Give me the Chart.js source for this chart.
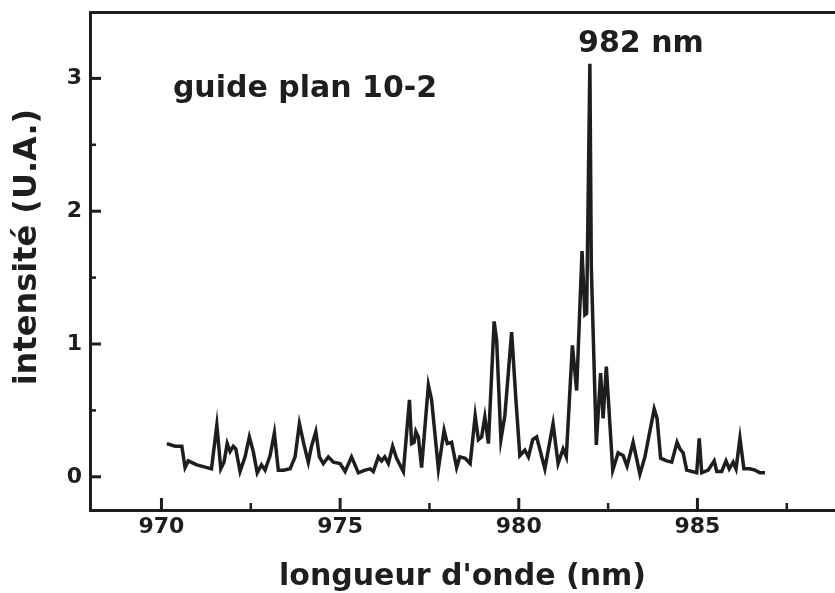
<!DOCTYPE html>
<html>
<head>
<meta charset="utf-8">
<title>guide plan 10-2</title>
<script src="https://cdn.jsdelivr.net/npm/chart.js@4.4.1/dist/chart.umd.min.js"></script>
<style>
  html, body { margin: 0; padding: 0; background: #fff; overflow: hidden; }
  #wrap { width: 835px; height: 593px; }
</style>
</head>
<body>
<div id="wrap"><canvas id="spectre" width="835" height="593"></canvas></div>
<script>
// longueur d'onde (nm)
var wavelength = [
  970.15, 970.38, 970.57, 970.66, 970.75, 970.99, 971.12, 971.40, 971.55, 971.66,
  971.75, 971.84, 971.92, 972.01, 972.08, 972.20, 972.34, 972.46, 972.57, 972.68,
  972.80, 972.90, 973.04, 973.16, 973.27, 973.41, 973.60, 973.74, 973.86, 973.99,
  974.11, 974.20, 974.32, 974.42, 974.53, 974.67, 974.81, 975.00, 975.14, 975.32,
  975.51, 975.70, 975.84, 975.93, 976.07, 976.16, 976.25, 976.35, 976.47, 976.58,
  976.77, 976.94, 977.00, 977.07, 977.12, 977.19, 977.28, 977.47, 977.56, 977.75,
  977.91, 978.00, 978.12, 978.26, 978.35, 978.50, 978.64, 978.78, 978.87, 978.96,
  979.05, 979.15, 979.31, 979.38, 979.50, 979.61, 979.80, 979.92, 980.03, 980.17,
  980.27, 980.39, 980.50, 980.73, 980.96, 981.10, 981.24, 981.33, 981.50, 981.62,
  981.77, 981.85, 981.90, 981.99, 982.03, 982.17, 982.29, 982.36, 982.45, 982.63,
  982.78, 982.92, 983.03, 983.20, 983.39, 983.53, 983.79, 983.87, 983.97, 984.14,
  984.28, 984.43, 984.51, 984.60, 984.70, 984.98, 985.05, 985.12, 985.30, 985.47,
  985.54, 985.68, 985.80, 985.89, 986.00, 986.08, 986.19, 986.30, 986.47, 986.61,
  986.75, 986.89
];
// intensite (U.A.)
var intensity = [
  0.25, 0.23, 0.23, 0.07, 0.12, 0.09, 0.08, 0.06, 0.39, 0.06,
  0.11, 0.25, 0.19, 0.23, 0.21, 0.04, 0.15, 0.30, 0.19, 0.03,
  0.09, 0.05, 0.16, 0.33, 0.05, 0.05, 0.06, 0.15, 0.40, 0.24,
  0.11, 0.23, 0.34, 0.15, 0.10, 0.15, 0.11, 0.10, 0.04, 0.15,
  0.03, 0.05, 0.06, 0.04, 0.15, 0.12, 0.15, 0.10, 0.23, 0.14,
  0.04, 0.58, 0.25, 0.26, 0.34, 0.30, 0.07, 0.69, 0.58, 0.06,
  0.35, 0.25, 0.26, 0.07, 0.15, 0.14, 0.10, 0.46, 0.28, 0.30,
  0.45, 0.25, 1.17, 1.03, 0.28, 0.46, 1.09, 0.58, 0.16, 0.20,
  0.15, 0.28, 0.30, 0.06, 0.40, 0.10, 0.21, 0.15, 0.99, 0.65,
  1.70, 1.22, 1.23, 3.11, 1.58, 0.24, 0.78, 0.44, 0.83, 0.05,
  0.18, 0.16, 0.08, 0.26, 0.02, 0.15, 0.51, 0.44, 0.14, 0.12,
  0.11, 0.26, 0.21, 0.18, 0.05, 0.03, 0.29, 0.03, 0.05, 0.12,
  0.04, 0.04, 0.12, 0.06, 0.11, 0.06, 0.29, 0.06, 0.06, 0.05,
  0.03, 0.03
];
var xTicks = [970, 975, 980, 985];
var xMinor = [972.5, 977.5, 982.5, 987.5];
var yTicks = [0, 1, 2, 3];
var yMinor = [0.5, 1.5, 2.5];

var ink = '#1e1e1e';
var face = '"DejaVu Sans", sans-serif';

var points = wavelength.map(function(w, i) {
  return { x: w, y: intensity[i] };
});

// petites graduations tournees vers l'interieur + textes du graphe
var inside = {
  id: 'inside',
  afterDraw: function(chart) {
    var ctx = chart.ctx;
    var a = chart.chartArea;
    var sx = chart.scales.x;
    var sy = chart.scales.y;
    ctx.save();
    ctx.strokeStyle = ink;
    function seg(x1, y1, x2, y2, w) {
      ctx.lineWidth = w;
      ctx.beginPath();
      ctx.moveTo(x1, y1);
      ctx.lineTo(x2, y2);
      ctx.stroke();
    }
    xTicks.forEach(function(v) {
      var p = sx.getPixelForValue(v);
      seg(p, a.bottom, p, a.bottom - 12, 3);
    });
    xMinor.forEach(function(v) {
      var p = sx.getPixelForValue(v);
      if (p < a.right) seg(p, a.bottom, p, a.bottom - 7, 2.5);
    });
    yTicks.forEach(function(v) {
      var p = sy.getPixelForValue(v);
      seg(a.left, p, a.left + 11, p, 3);
    });
    yMinor.forEach(function(v) {
      var p = sy.getPixelForValue(v);
      seg(a.left, p, a.left + 6, p, 2.5);
    });

    ctx.fillStyle = ink;
    ctx.font = 'bold 30px ' + face;
    ctx.textBaseline = 'alphabetic';
    ctx.textAlign = 'left';
    ctx.fillText('guide plan 10-2', sx.getPixelForValue(970.32), sy.getPixelForValue(2.857));
    ctx.fillText('982 nm', sx.getPixelForValue(981.66), sy.getPixelForValue(3.196));

    // titre de l'axe vertical (un peu au-dessus du centre, comme l'original)
    ctx.font = 'bold 32px ' + face;
    ctx.textAlign = 'center';
    ctx.textBaseline = 'middle';
    ctx.translate(28, sy.getPixelForValue(1.73));
    ctx.rotate(-Math.PI / 2);
    ctx.fillText('intensité (U.A.)', 0, 0);
    ctx.restore();
  }
};

var ctx = document.getElementById('spectre').getContext('2d');
var chart = new Chart(ctx, {
  type: 'scatter',
  data: {
    datasets: [{
      data: points,
      showLine: true,
      borderColor: ink,
      borderWidth: 3.5,
      pointRadius: 0,
      tension: 0,
      fill: false
    }]
  },
  options: {
    responsive: false,
    animation: false,
    layout: { padding: { top: 12, right: 0, bottom: 0, left: 0 } },
    plugins: {
      legend: { display: false },
      tooltip: { enabled: false }
    },
    scales: {
      x: {
        type: 'linear',
        position: 'bottom',
        min: 968,
        max: 988.85,
        afterFit: function(s) { s.height = 83; },
        afterBuildTicks: function(s) {
          s.ticks = xTicks.map(function(v) { return { value: v }; });
        },
        grid: { drawOnChartArea: false, drawTicks: false },
        border: { display: true, width: 3, color: ink },
        ticks: {
          padding: 4,
          color: ink,
          maxRotation: 0,
          font: { family: face, size: 22, weight: 'bold' }
        },
        title: {
          display: true,
          text: "longueur d'onde (nm)",
          color: ink,
          padding: { top: 0, bottom: 1 },
          font: { family: face, size: 30, weight: 'bold', lineHeight: 1 }
        }
      },
      top: {
        type: 'linear',
        position: 'top',
        min: 968,
        max: 988.85,
        afterFit: function(s) { s.height = 0; },
        grid: { drawOnChartArea: false, drawTicks: false },
        border: { display: true, width: 3, color: ink },
        ticks: { display: false }
      },
      y: {
        type: 'linear',
        position: 'left',
        min: -0.25,
        max: 3.5,
        afterFit: function(s) {
          s.width = 90;
          s.paddingTop = 0;
          s.paddingBottom = 0;
        },
        afterBuildTicks: function(s) {
          s.ticks = yTicks.map(function(v) { return { value: v }; });
        },
        grid: { drawOnChartArea: false, drawTicks: false },
        border: { display: true, width: 3, color: ink },
        ticks: {
          padding: 8,
          color: ink,
          font: { family: face, size: 22, weight: 'bold' }
        },
        title: { display: false }
      }
    }
  },
  plugins: [inside]
});
</script>
</body>
</html>
